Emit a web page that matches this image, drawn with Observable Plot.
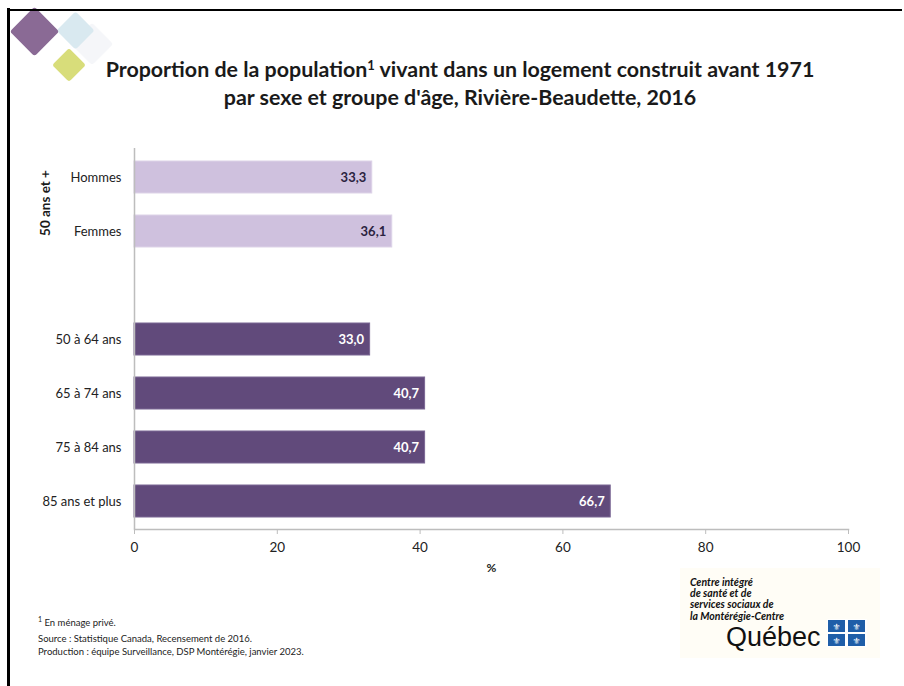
<!DOCTYPE html>
<html>
<head>
<meta charset="utf-8">
<script src="https://cdn.jsdelivr.net/npm/d3@7"></script>
<script src="https://cdn.jsdelivr.net/npm/@observablehq/plot@0.6"></script>
<style>
  html, body { margin: 0; padding: 0; background: #fff; }
  #page { position: relative; width: 904px; height: 686px; overflow: hidden; font-family: Lato, "Open Sans", sans-serif; color: #222; }
  .abs { position: absolute; }
  #title { left: 0; width: 920px; top: 57px; text-align: center; font-weight: 700; font-size: 21.4px; line-height: 25px; color: #1a1a1a; }
  #title sup { font-size: 13px; vertical-align: 0; position: relative; top: -7px; }
  .diamond { position: absolute; transform: rotate(45deg); border-radius: 3px; }
  #chart { position: absolute; left: 0; top: 130px; }
  #group { left: 45px; top: 203px; transform: translate(-50%, -50%) rotate(-90deg); font-weight: 700; font-size: 13.5px; white-space: nowrap; color: #1a1a1a; }
  #notes { left: 38px; top: 613px; font-size: 9.5px; line-height: 13.5px; color: #222; }
  #notes div:first-child { margin-bottom: 2px; }
  #logo { left: 680px; top: 568px; width: 200px; height: 90px; background: #fffdf6; }
  #logotext { left: 690px; top: 577px; font-style: italic; font-weight: 700; font-size: 10.5px; line-height: 11.2px; color: #111; }
  #quebec { left: 726px; top: 624px; font-size: 27px; line-height: 26px; color: #111; font-family: "Liberation Sans", Arial, sans-serif; }
</style>
</head>
<body>
<div id="page">
  <div class="abs" style="left:7px;top:8px;width:3px;height:678px;background:#000"></div>
  <div class="diamond" style="left:77px;top:29px;width:30px;height:30px;background:#f5f6f9;"></div>
  <div class="diamond" style="left:61.5px;top:16.5px;width:27px;height:27px;background:#d9e9f0;"></div>
  <div class="diamond" style="left:16.5px;top:13.5px;width:35px;height:35px;background:#8a6a95;"></div>
  <div class="diamond" style="left:57px;top:53px;width:24px;height:24px;background:#d8dd7a;"></div>
  <div class="abs" style="left:7px;top:9px;width:895px;height:2px;background:#000"></div>

  <div id="title" class="abs">Proportion de la population<sup>1</sup> vivant dans un logement construit avant 1971<br>par sexe et groupe d'âge, Rivière-Beaudette, 2016</div>
  <div id="chart"></div>
  <div id="group" class="abs">50 ans et +</div>

  <div id="notes" class="abs">
    <div><sup style="font-size:7px">1</sup> En ménage privé.</div>
    <div>Source : Statistique Canada, Recensement de 2016.</div>
    <div>Production : équipe Surveillance, DSP Montérégie, janvier 2023.</div>
  </div>

  <div id="logo" class="abs"></div>
  <div id="logotext" class="abs">Centre intégré<br>de santé et de<br>services sociaux de<br>la Montérégie-Centre</div>
  <div id="quebec" class="abs">Québec</div>
  <svg class="abs" style="left:827px;top:619px" width="40" height="28" viewBox="0 0 40 28">
    <rect x="0" y="0" width="40" height="28" fill="#fff"/>
    <rect x="1" y="1" width="17" height="12" fill="#1f5ea8"/>
    <rect x="21" y="1" width="17" height="12" fill="#1f5ea8"/>
    <rect x="1" y="15" width="17" height="12" fill="#1f5ea8"/>
    <rect x="21" y="15" width="17" height="12" fill="#1f5ea8"/>
    <g fill="#fff" font-size="9" text-anchor="middle" font-family="DejaVu Sans">
      <text x="9.5" y="10.5">⚜</text><text x="29.5" y="10.5">⚜</text>
      <text x="9.5" y="24.5">⚜</text><text x="29.5" y="24.5">⚜</text>
    </g>
  </svg>
</div>
<script>
// ---- data ----
const categories = ["Hommes", "Femmes", "50 à 64 ans", "65 à 74 ans", "75 à 84 ans", "85 ans et plus"];
const values = [33.3, 36.1, 33.0, 40.7, 40.7, 66.7];
const groups = ["sexe", "sexe", "age", "age", "age", "age"];
const xTicks = [0, 20, 40, 60, 80, 100];
const xLabel = "%";

const spacer = "\u2003";
const domain = [categories[0], categories[1], spacer, ...categories.slice(2)];
const rows = categories.map((c, i) => ({cat: c, value: values[i], group: groups[i]}));
const fmt = v => v.toFixed(1).replace(".", ",");

const chart = Plot.plot({
  width: 904,
  height: 450,
  marginLeft: 134,
  marginRight: 56,
  marginTop: 18,
  marginBottom: 51,
  style: {fontFamily: "Lato, 'Open Sans', sans-serif", fontSize: "13px", color: "#222", background: "transparent"},
  x: {domain: [0, 100], ticks: xTicks, label: null},
  y: {domain, paddingInner: 0.41, paddingOuter: 0.2, label: null},
  color: {domain: ["sexe", "age"], range: ["#cfc1de", "#614a7b"]},
  marks: [
    Plot.barX(rows, {x: "value", y: "cat", fill: "group", stroke: d => d.group === "sexe" ? "#ddd3e8" : "#7b6794", strokeWidth: 1}),
    Plot.text(rows, {x: "value", y: "cat", text: d => fmt(d.value), textAnchor: "end", dx: -6,
      fill: d => d.group === "sexe" ? "#2b2340" : "#ffffff", fontWeight: 700, fontSize: 13}),
    Plot.ruleX([0], {stroke: "#bdbdbd", strokeWidth: 1.5}),
    Plot.frame({anchor: "bottom", stroke: "#bdbdbd", strokeWidth: 1.5}),
    Plot.axisX({ticks: xTicks, tickSize: 5, stroke: "#bdbdbd", tickPadding: 8, fontSize: 13.5, label: null}),
    Plot.axisY({tickSize: 0, tickPadding: 13, fontSize: 13, tickFormat: d => d === spacer ? "" : d}),
    Plot.text([xLabel], {frameAnchor: "bottom", text: d => d, dy: 42, fontWeight: 700, fontSize: 12})
  ]
});
document.getElementById("chart").appendChild(chart);
</script>
</body>
</html>
